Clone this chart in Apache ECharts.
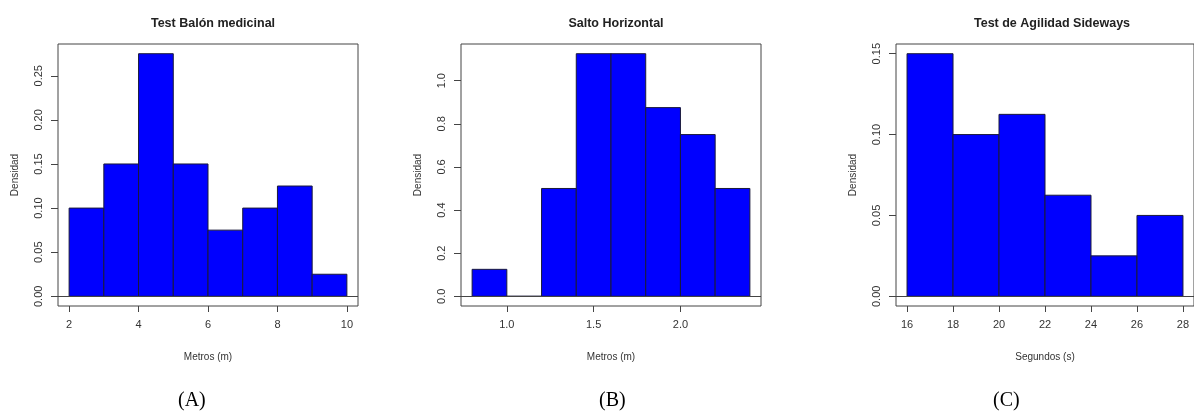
<!DOCTYPE html>
<html>
<head>
<meta charset="utf-8">
<script src="https://cdn.jsdelivr.net/npm/echarts@6/dist/echarts.min.js"></script>
<style>
  html, body { margin: 0; padding: 0; background: #fff; }
  #main { width: 1194px; height: 414px; }
</style>
</head>
<body>
<div id="main"></div>
<script>
// datos de los histogramas (cortes y densidades)
var breaksA = [2, 3, 4, 5, 6, 7, 8, 9, 10];
var densA = [0.1, 0.15, 0.275, 0.15, 0.075, 0.1, 0.125, 0.025];
var xTicksA = [2, 4, 6, 8, 10];
var yTicksA = [0, 0.05, 0.1, 0.15, 0.2, 0.25];

var breaksB = [0.8, 1.0, 1.2, 1.4, 1.6, 1.8, 2.0, 2.2, 2.4];
var densB = [0.125, 0, 0.5, 1.125, 1.125, 0.875, 0.75, 0.5];
var xTicksB = [1.0, 1.5, 2.0];
var yTicksB = [0, 0.2, 0.4, 0.6, 0.8, 1.0];

var breaksC = [16, 18, 20, 22, 24, 26, 28];
var densC = [0.15, 0.1, 0.1125, 0.0625, 0.025, 0.05];
var xTicksC = [16, 18, 20, 22, 24, 26, 28];
var yTicksC = [0, 0.05, 0.1, 0.15];

var titles = ['Test Balón medicinal', 'Salto Horizontal', 'Test de Agilidad Sideways'];
var xNames = ['Metros (m)', 'Metros (m)', 'Segundos (s)'];
var panelTags = ['(A)', '(B)', '(C)'];

var myChart = echarts.init(document.getElementById('main'));
window.addEventListener('resize', function () {
    myChart.resize();
});

var textColor = '#333';
var lineColor = '#444';

var panels = [
    { breaks: breaksA, dens: densA, xt: xTicksA, yt: yTicksA, xd: 0, yd: 2, left: 58, width: 300 },
    { breaks: breaksB, dens: densB, xt: xTicksB, yt: yTicksB, xd: 1, yd: 1, left: 461, width: 300 },
    { breaks: breaksC, dens: densC, xt: xTicksC, yt: yTicksC, xd: 0, yd: 2, left: 896, width: 302 }
];

var grid = [], xAxis = [], yAxis = [], series = [], title = [], graphic = [];

panels.forEach(function (p, i) {
    var lo = p.breaks[0], hi = p.breaks[p.breaks.length - 1];
    var ext = (hi - lo) * 0.04;
    var ymax = Math.max.apply(null, p.dens);
    var yext = ymax * 0.04;

    grid.push({
        left: p.left, width: p.width, top: 44, height: 262,
        show: true, borderColor: lineColor, borderWidth: 1, backgroundColor: 'transparent'
    });
    xAxis.push({
        type: 'value', gridIndex: i, min: lo - ext, max: hi + ext,
        splitLine: { show: false },
        axisLine: { show: false, onZero: false },
        axisTick: { show: true, length: 6, customValues: p.xt, lineStyle: { color: lineColor } },
        axisLabel: {
            customValues: p.xt, color: textColor, fontSize: 11, margin: 13,
            fontFamily: 'Liberation Sans, Arial',
            formatter: function (v) { return v.toFixed(p.xd); }
        },
        name: xNames[i], nameLocation: 'middle', nameGap: 46,
        nameTextStyle: { color: textColor, fontSize: 10, fontFamily: 'Liberation Sans, Arial' }
    });
    yAxis.push({
        type: 'value', gridIndex: i, min: -yext, max: ymax + yext,
        splitLine: { show: false },
        axisLine: { show: false, onZero: false },
        axisTick: { show: true, length: 7, customValues: p.yt, lineStyle: { color: lineColor } },
        axisLabel: {
            customValues: p.yt, color: textColor, fontSize: 11, margin: 14, rotate: 90,
            fontFamily: 'Liberation Sans, Arial',
            formatter: function (v) { return v.toFixed(p.yd); }
        },
        name: 'Densidad', nameLocation: 'middle', nameGap: 38,
        nameTextStyle: { color: textColor, fontSize: 10, fontFamily: 'Liberation Sans, Arial' }
    });

    var data = [];
    for (var k = 0; k < p.dens.length; k++) {
        data.push([p.breaks[k], p.breaks[k + 1], p.dens[k]]);
    }
    series.push({
        type: 'custom', xAxisIndex: i, yAxisIndex: i,
        data: data,
        renderItem: function (params, api) {
            var a = api.coord([api.value(0), api.value(2)]);
            var b = api.coord([api.value(1), 0]);
            return {
                type: 'rect',
                shape: { x: a[0], y: a[1], width: b[0] - a[0], height: b[1] - a[1] },
                style: { fill: '#0000ff', stroke: '#1a1a3a', lineWidth: 1 }
            };
        },
        markLine: {
            silent: true, symbol: 'none', label: { show: false },
            lineStyle: { color: lineColor, type: 'solid', width: 1 },
            data: [{ yAxis: 0 }]
        }
    });

    var cx = p.left + p.width / 2;
    title.push({
        text: titles[i], left: cx, top: 12, textAlign: 'center',
        textStyle: { fontSize: 12.5, fontWeight: 'bold', color: '#222', fontFamily: 'Liberation Sans, Arial' }
    });
});

var tagX = [192, 613, 1007];
panelTags.forEach(function (t, i) {
    graphic.push({
        type: 'text', left: tagX[i] - 14, top: 391,
        style: { text: t, fontSize: 20, fill: '#000', fontFamily: 'Liberation Serif, Times New Roman, serif' }
    });
});

option = {
    animation: false,
    backgroundColor: '#fff',
    title: title,
    grid: grid,
    xAxis: xAxis,
    yAxis: yAxis,
    series: series,
    graphic: graphic
};

myChart.setOption(option);
</script>
</body>
</html>
